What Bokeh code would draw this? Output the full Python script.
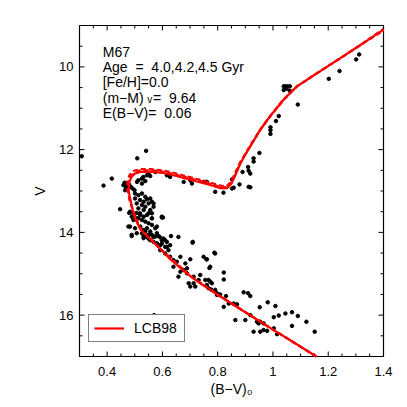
from bokeh.plotting import figure
from bokeh.models import Range1d, FixedTicker, Label, Legend, LegendItem
from bokeh.embed import file_html
from bokeh.resources import INLINE

FONT = "Liberation Sans"

# ---------------- data ----------------
x_lo, x_hi = 0.3, 1.4
v_faint, v_bright = 17.0, 9.0
x_ticks = [0.4, 0.6, 0.8, 1.0, 1.2, 1.4]
x_minor = [0.30, 0.35, 0.45, 0.50, 0.55, 0.65, 0.70, 0.75, 0.85, 0.90, 0.95,
           1.05, 1.10, 1.15, 1.25, 1.30, 1.35]
y_ticks = [10, 12, 14, 16]
y_minor = [9.0, 9.5, 10.5, 11.0, 11.5, 12.5, 13.0, 13.5, 14.5, 15.0, 15.5,
           16.5, 17.0]

# Isochrones (LCB98), ages 4.0, 4.2, 4.5 Gyr
iso40_bv = [1.157, 1.08, 1.00, 0.90, 0.81, 0.737, 0.70, 0.665, 0.628, 0.59,
            0.55, 0.52, 0.505, 0.495, 0.487, 0.481, 0.478, 0.480, 0.487, 0.50,
            0.52, 0.556, 0.60, 0.64, 0.68, 0.725, 0.77, 0.81, 0.835, 0.85,
            0.865, 0.882, 0.90, 0.918, 0.954, 0.99, 1.039, 1.087, 1.16, 1.244,
            1.317, 1.40]
iso40_v = [17.0, 16.68, 16.35, 15.93, 15.55, 15.23, 15.05, 14.86, 14.65, 14.38,
           14.13, 13.92, 13.72, 13.52, 13.30, 13.12, 12.98, 12.80, 12.67, 12.58,
           12.54, 12.53, 12.56, 12.62, 12.69, 12.77, 12.85, 12.93, 12.93, 12.82,
           12.60, 12.34, 12.12, 11.92, 11.52, 11.19, 10.79, 10.47, 10.15, 9.79,
           9.47, 9.10]

iso42_bv = [1.157, 1.00, 0.81, 0.70, 0.59, 0.52, 0.495, 0.482, 0.476, 0.472,
            0.474, 0.482, 0.497, 0.52, 0.556, 0.60, 0.64, 0.68, 0.725, 0.77,
            0.81, 0.832, 0.848, 0.862, 0.88, 0.90, 0.918, 0.956, 0.993, 1.043,
            1.091, 1.164, 1.248, 1.321, 1.40]
iso42_v = [17.0, 16.35, 15.55, 15.05, 14.38, 13.92, 13.50, 13.25, 13.05, 12.92,
           12.74, 12.60, 12.51, 12.47, 12.47, 12.50, 12.56, 12.63, 12.71, 12.79,
           12.87, 12.88, 12.78, 12.58, 12.32, 12.10, 11.90, 11.50, 11.17, 10.77,
           10.45, 10.13, 9.77, 9.45, 9.08]

iso45_bv = [1.157, 1.00, 0.81, 0.70, 0.59, 0.52, 0.497, 0.486, 0.480, 0.476,
            0.478, 0.486, 0.50, 0.52, 0.556, 0.60, 0.64, 0.68, 0.725, 0.77,
            0.81, 0.834, 0.85, 0.864, 0.881, 0.90, 0.918, 0.952, 0.987, 1.035,
            1.083, 1.156, 1.240, 1.313, 1.40]
iso45_v = [17.0, 16.35, 15.55, 15.05, 14.38, 13.92, 13.55, 13.30, 13.10, 12.95,
           12.78, 12.64, 12.55, 12.50, 12.50, 12.53, 12.59, 12.66, 12.74, 12.82,
           12.90, 12.91, 12.80, 12.59, 12.33, 12.11, 11.91, 11.54, 11.21, 10.81,
           10.49, 10.17, 9.81, 9.49, 9.12]

# M67 stars: (B-V)0 and V
star_bv = [
    0.308, 0.509, 0.541, 0.417, 0.387, 0.447, 0.477, 0.489, 0.570, 0.710, 0.788, 0.598,
    0.463, 0.471, 0.479, 0.459, 0.468, 0.479, 0.486, 0.465, 0.492, 0.499, 0.508, 0.513,
    0.526, 0.531, 0.544, 0.550, 0.526, 0.538,
    0.501, 0.513, 0.526, 0.538, 0.501, 0.519, 0.532, 0.544, 0.556, 0.507, 0.526, 0.538,
    0.550, 0.513, 0.532, 0.556, 0.568, 0.495, 0.519, 0.544, 0.480, 0.489, 0.507, 0.526,
    0.483, 0.507, 0.520, 0.513, 0.532, 0.538, 0.550, 0.495, 0.483, 0.501, 0.520, 0.532,
    0.544, 0.556, 0.562, 0.574, 0.550, 0.532, 0.568, 0.580, 0.598, 0.586, 0.592, 0.610,
    0.616, 0.580, 0.598, 0.550, 0.562, 0.489, 0.507, 0.622,
    0.526, 0.538, 0.550, 0.532, 0.544, 0.556, 0.568, 0.580, 0.592, 0.604, 0.610, 0.598,
    0.616, 0.628, 0.631, 0.658, 0.709, 0.592, 0.610, 0.628, 0.640, 0.652, 0.665, 0.701,
    0.749, 0.761, 0.791, 0.683, 0.689, 0.677, 0.689, 0.737, 0.731, 0.713, 0.701, 0.719,
    0.755, 0.767, 0.773, 0.761, 0.767, 0.776, 0.658, 0.695, 0.791, 0.797, 0.640, 0.665,
    0.713, 0.759, 0.770,
    0.773, 0.779, 0.791, 0.797, 0.809, 0.822, 0.822, 0.830, 0.822, 0.840, 0.858, 0.870,
    0.864, 0.900, 0.894, 0.910, 0.918, 0.918, 0.942, 0.948, 0.954, 0.966, 0.930, 0.954,
    0.966, 0.979, 0.952, 0.981, 1.003, 1.009, 1.021, 1.003, 1.015, 1.069, 1.045, 1.069,
    1.090, 1.121, 1.151,
    0.556, 0.574, 0.616, 0.628, 0.677, 0.701, 0.707, 0.749, 0.562, 0.568, 0.562, 0.562,
    0.602, 0.562, 0.574, 0.580,
    0.755, 0.761, 0.791, 0.821, 0.852, 0.852, 0.858, 0.879, 0.890, 0.910, 0.912, 0.918,
    0.912, 0.918, 0.930, 0.930, 0.951, 0.991, 0.991, 0.991, 1.011, 1.021, 1.039, 1.045,
    1.053, 1.061, 1.039, 1.049, 1.061, 1.090, 1.202, 1.241, 1.301, 1.312,
]
star_v = [
    12.16, 12.21, 12.03, 12.70, 12.87, 13.44, 13.86, 14.09, 16.00, 14.23, 14.49, 13.64,
    12.80, 12.82, 12.84, 12.86, 12.90, 12.88, 12.90, 12.98, 12.94, 12.98, 12.78, 12.74,
    12.70, 12.66, 12.62, 12.59, 12.82, 12.76,
    13.06, 13.10, 13.06, 13.14, 13.18, 13.22, 13.26, 13.20, 13.18, 13.30, 13.34, 13.38,
    13.30, 13.42, 13.46, 13.46, 13.38, 13.54, 13.54, 13.58, 13.53, 13.62, 13.66, 13.70,
    13.50, 13.53, 13.58, 13.66, 13.62, 13.74, 13.78, 13.70, 13.86, 13.90, 13.86, 13.94,
    13.90, 13.98, 14.06, 14.10, 14.15, 14.10, 14.23, 14.27, 14.19, 14.09, 14.31, 14.35,
    14.23, 14.02, 13.62, 13.54, 13.66, 14.06, 14.02, 14.43,
    14.02, 13.98, 14.06, 14.14, 14.11, 14.19, 14.11, 14.27, 14.12, 14.15, 14.19, 14.27,
    14.35, 14.31, 14.09, 14.11, 14.25, 14.43, 14.51, 14.59, 14.67, 14.71, 14.59, 14.65,
    14.59, 14.65, 14.51, 14.75, 14.87, 14.91, 14.99, 15.03, 15.15, 15.23, 15.31, 15.31,
    15.15, 15.15, 15.19, 15.27, 15.35, 15.38, 15.07, 15.23, 15.43, 15.51, 14.83, 14.95,
    15.07, 14.65, 14.86,
    14.83, 15.23, 15.39, 15.47, 15.50, 14.97, 15.14, 15.54, 15.80, 15.72, 15.72, 15.74,
    16.12, 16.12, 15.45, 15.47, 15.54, 16.00, 16.16, 16.20, 16.16, 16.20, 16.40, 16.40,
    16.36, 16.38, 15.81, 15.69, 16.05, 15.78, 16.01, 16.32, 16.46, 16.26, 15.96, 15.93,
    16.02, 16.16, 16.40,
    12.64, 12.54, 12.62, 12.66, 12.78, 12.74, 12.82, 12.78, 13.26, 13.30, 13.54, 13.66,
    13.64, 13.82, 13.90, 13.86,
    12.78, 12.78, 13.02, 13.04, 12.94, 12.72, 12.92, 12.84, 12.54, 12.42, 12.51, 12.58,
    12.90, 12.91, 12.21, 12.29, 12.08, 11.46, 11.53, 11.62, 11.31, 11.19, 10.47, 10.47,
    10.47, 10.47, 10.56, 10.53, 10.58, 10.91, 10.29, 10.10, 9.82, 9.70,
]

# ---------------- figure ----------------
# The visible box is 304x331 px; the Bokeh frame is padded by PAD px on
# every side so that the box edges and ticks are drawn well inside it.
BW, BH, PAD = 304, 331, 6
dx = (x_hi - x_lo) / BW         # data per pixel, x
dy = (v_faint - v_bright) / BH  # data per pixel, y

p = figure(frame_width=BW + 2 * PAD, frame_height=BH + 2 * PAD,
           x_range=Range1d(x_lo - PAD * dx, x_hi + PAD * dx),
           y_range=Range1d(v_faint + PAD * dy, v_bright - PAD * dy),
           output_backend="svg", toolbar_location=None,
           min_border_left=79 - PAD, min_border_right=20 - PAD,
           min_border_top=25 - PAD, min_border_bottom=45 - PAD,
           background_fill_color=None, border_fill_color=None)
p.title.visible = False
p.xgrid.visible = False
p.ygrid.visible = False
p.outline_line_color = None

for ax in (p.xaxis[0], p.yaxis[0]):
    ax.major_tick_in = 0
    ax.major_tick_out = 0
    ax.minor_tick_in = 0
    ax.minor_tick_out = 0
    ax.axis_line_color = None
    ax.major_label_text_font = FONT
    ax.major_label_text_font_size = "13px"
    ax.major_label_text_color = "black"
    ax.axis_label_text_font = FONT
    ax.axis_label_text_font_style = "normal"
    ax.axis_label_text_font_size = "14px"
    ax.axis_label_text_color = "black"

p.xaxis.ticker = FixedTicker(ticks=x_ticks, minor_ticks=x_minor)
p.yaxis.ticker = FixedTicker(ticks=y_ticks, minor_ticks=y_minor)
p.xaxis.major_label_standoff = 10 - PAD
p.xaxis.axis_label = "(B\u2212V)\u2080"
p.xaxis.axis_label_standoff = 2
p.yaxis.major_label_standoff = 0
p.yaxis.axis_label = "V"
p.yaxis.axis_label_standoff = 8

MAJ, MIN = 5.0, 3.0

# box edges
p.segment(x0=[x_lo, x_lo, x_lo, x_hi],
          y0=[v_faint, v_bright, v_faint, v_faint],
          x1=[x_hi, x_hi, x_lo, x_hi],
          y1=[v_faint, v_bright, v_bright, v_bright],
          line_color="black", line_width=1.2)


def xticks(xs, length):
    n = len(xs)
    p.segment(x0=xs, y0=[v_faint] * n, x1=xs, y1=[v_faint - length * dy] * n,
              line_color="black", line_width=1)
    p.segment(x0=xs, y0=[v_bright] * n, x1=xs, y1=[v_bright + length * dy] * n,
              line_color="black", line_width=1)


def yticks(ys, length):
    n = len(ys)
    p.segment(x0=[x_lo] * n, y0=ys, x1=[x_lo + length * dx] * n, y1=ys,
              line_color="black", line_width=1)
    p.segment(x0=[x_hi] * n, y0=ys, x1=[x_hi - length * dx] * n, y1=ys,
              line_color="black", line_width=1)


xticks(x_ticks, MAJ)
xticks(x_minor, MIN)
yticks(y_ticks, MAJ)
yticks(y_minor, MIN)

# stars
p.scatter(star_bv, star_v, size=3.5, color="black", marker="circle")

# isochrones
r40 = p.line(iso40_bv, iso40_v, line_color="#ff0000", line_width=2.2)
p.line(iso42_bv, iso42_v, line_color="#ff0000", line_width=2.2, line_dash="5 3")
p.line(iso45_bv, iso45_v, line_color="#ff0000", line_width=2.2, line_dash="5 3")


def lab(x, y, t, size="14px"):
    p.add_layout(Label(x=x, y=y, text=t, text_font=FONT, text_font_size=size,
                       text_baseline="middle", text_color="black"))


# annotation text block
tx = 0.384
lab(tx, 9.64, "M67")
lab(tx, 10.0, "Age\u00a0\u00a0=\u00a0\u00a04.0,4.2,4.5 Gyr")
lab(tx, 10.37, "[Fe/H]=0.0")
lab(tx, 10.75, "(m\u2212M)")
lab(0.545, 10.80, "v", "10px")
lab(0.566, 10.75, "=\u00a0\u00a09.64")
lab(tx, 11.11, "E(B\u2212V)=\u00a0\u00a00.06")

legend = Legend(items=[LegendItem(label="LCB98", renderers=[r40])],
                location=(9 + PAD, 14 + PAD))
legend.border_line_color = "black"
legend.border_line_width = 1.5
legend.label_text_font = FONT
legend.label_text_font_size = "14px"
legend.label_text_color = "black"
legend.glyph_width = 30
legend.glyph_height = 14
legend.label_height = 14
legend.label_width = 45
legend.padding = 5
legend.margin = 0
legend.spacing = 0
legend.label_standoff = 10
legend.background_fill_color = "white"
legend.background_fill_alpha = 1.0
p.add_layout(legend, "center")

open("out.html", "w").write(file_html(p, INLINE))
